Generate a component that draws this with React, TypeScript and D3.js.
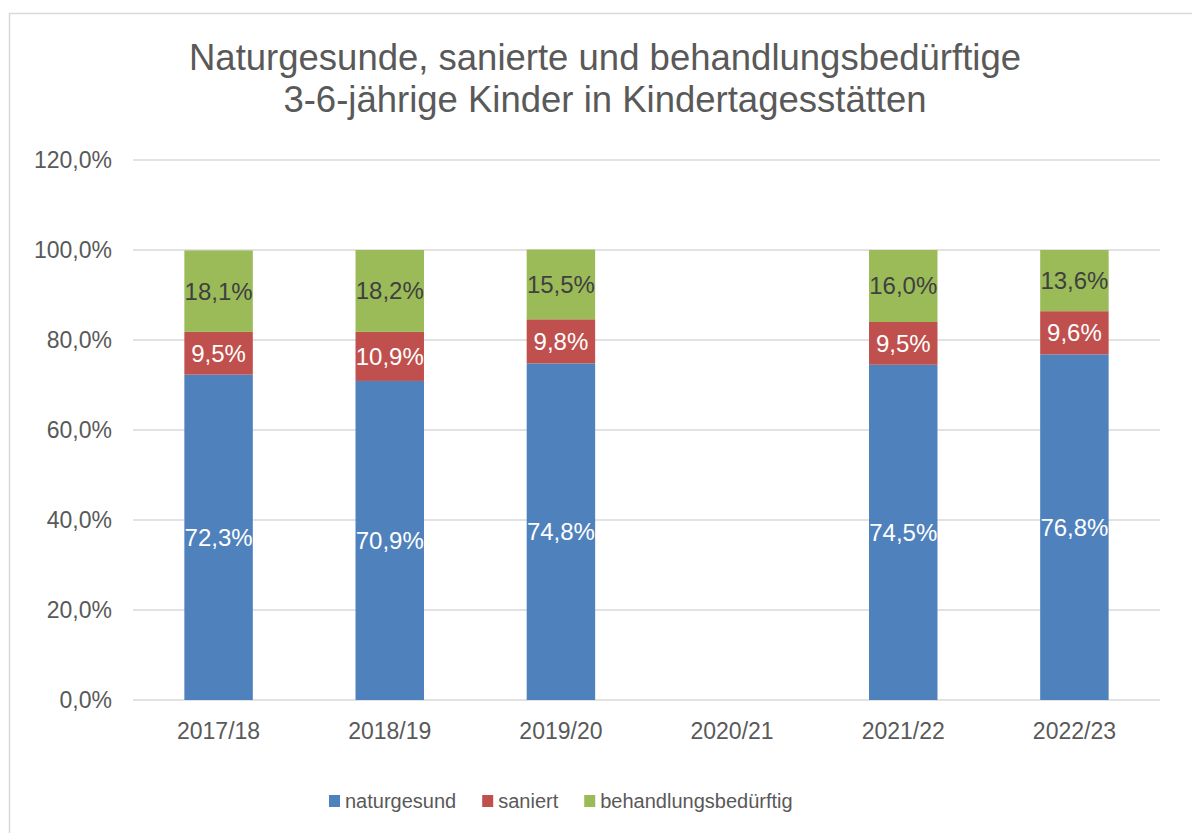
import React from 'react';
import * as d3 from 'd3';

const categories = ['2017/18', '2018/19', '2019/20', '2020/21', '2021/22', '2022/23'];
const naturgesund = [72.3, 70.9, 74.8, null, 74.5, 76.8];
const saniert = [9.5, 10.9, 9.8, null, 9.5, 9.6];
const behandlungsbeduerftig = [18.1, 18.2, 15.5, null, 16.0, 13.6];
const yTicks = [0, 20, 40, 60, 80, 100, 120];
const titleLines = ['Naturgesunde, sanierte und behandlungsbedürftige', '3-6-jährige Kinder in Kindertagesstätten'];

const series = [
  { name: 'naturgesund', values: naturgesund, color: '#4f81bd', label: '#ffffff' },
  { name: 'saniert', values: saniert, color: '#c0504d', label: '#ffffff' },
  { name: 'behandlungsbedürftig', values: behandlungsbeduerftig, color: '#9bbb59', label: '#404040' },
];

const font = '"Liberation Sans", Arial, sans-serif';
const fmt = (v: number) => v.toFixed(1).replace('.', ',') + '%';

function textWidth(t: string, size: number) {
  const ctx = document.createElement('canvas').getContext('2d');
  if (!ctx) return t.length * size * 0.5;
  ctx.font = `${size}px ${font}`;
  return ctx.measureText(t).width;
}

export default function App() {
  const W = 1192, H = 833;
  const left = 133, right = 1160, top = 160, bottom = 700;

  const x = d3.scaleBand().domain(categories).range([left, right]).paddingInner(0.6).paddingOuter(0.3);
  const y = d3.scaleLinear().domain([0, 120]).range([bottom, top]);

  // gestapelte Segmente
  const segs: any[] = [];
  categories.forEach((c, i) => {
    let base = 0;
    series.forEach((s) => {
      const v = s.values[i];
      if (v == null) return;
      segs.push({ c, s, y0: base, y1: base + v, v });
      base += v;
    });
  });

  // Legende
  const legSize = 20, sq = 11, gapText = 5, gapItem = 26;
  const widths = series.map((s) => sq + gapText + textWidth(s.name, legSize));
  let lx = 329;
  const legendItems = series.map((s, i) => {
    const item = { s, x: lx };
    lx += widths[i] + gapItem;
    return item;
  });

  return (
    <svg width={W} height={H} style={{ position: 'absolute', left: 0, top: 0, background: '#fff' }}>
      <rect x={9.5} y={13.5} width={1200} height={840} fill="#fff" stroke="#d9d9d9" strokeWidth={1.5} />
      {titleLines.map((t, i) => (
        <text key={t} x={605} y={70 + i * 42} textAnchor="middle" fontFamily={font} fontSize={36.5} fill="#595959">{t}</text>
      ))}
      {yTicks.map((t) => (
        <g key={t}>
          <line x1={left} x2={right} y1={y(t)} y2={y(t)} stroke="#d9d9d9" strokeWidth={1.5} />
          <text x={112} y={y(t)} dy="0.35em" textAnchor="end" fontFamily={font} fontSize={23} fill="#595959">{fmt(t)}</text>
        </g>
      ))}
      {segs.map((d, i) => (
        <rect key={i} x={x(d.c)} width={x.bandwidth()} y={y(d.y1)} height={y(d.y0) - y(d.y1)} fill={d.s.color} />
      ))}
      {segs.map((d, i) => (
        <text key={'l' + i} x={(x(d.c) as number) + x.bandwidth() / 2} y={y((d.y0 + d.y1) / 2)} dy="0.35em"
          textAnchor="middle" fontFamily={font} fontSize={24} fill={d.s.label}>{fmt(d.v)}</text>
      ))}
      {categories.map((c) => (
        <text key={c} x={(x(c) as number) + x.bandwidth() / 2} y={731} dy="0.35em" textAnchor="middle"
          fontFamily={font} fontSize={23} fill="#595959">{c}</text>
      ))}
      {legendItems.map(({ s, x: ix }) => (
        <g key={s.name}>
          <rect x={ix} y={795} width={sq} height={sq + 1} fill={s.color} />
          <text x={ix + sq + gapText} y={801} dy="0.35em" fontFamily={font} fontSize={legSize} fill="#595959">{s.name}</text>
        </g>
      ))}
    </svg>
  );
}
